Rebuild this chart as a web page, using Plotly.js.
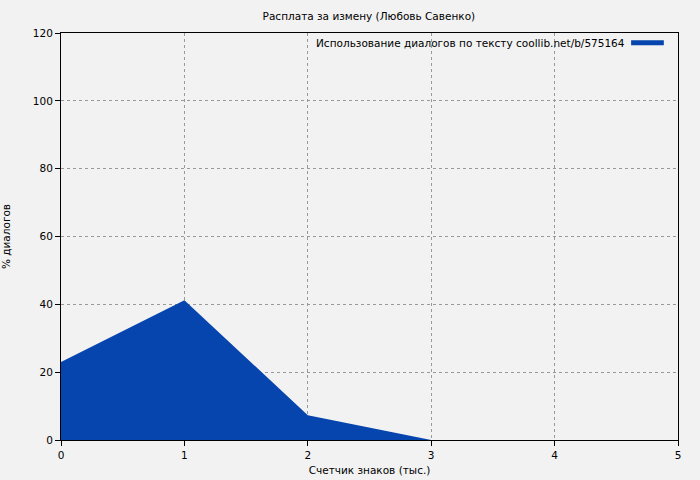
<!DOCTYPE html>
<html><head><meta charset="utf-8">
<script src="https://cdn.plot.ly/plotly-3.0.1.min.js"></script>
<style>html,body{margin:0;padding:0;background:#f2f2f2}</style>
</head><body><div id="chart" style="width:700px;height:480px"></div>
<script>
const xThousands = [0, 1, 2, 3, 4, 5];
const pctDialogs = [23, 41.2, 7.3, 0, 0, 0];
const seriesName = "Использование диалогов по тексту coollib.net/b/575164";
const chartTitle = "Расплата за измену (Любовь Савенко)";
const xTitle = "Счетчик знаков (тыс.)";
const yTitle = "% диалогов";

const fontFam = "DejaVu Sans, sans-serif";
const fs = 10.5;
const trace = {
  x: xThousands, y: pctDialogs, type: "scatter", mode: "lines",
  fill: "tozeroy", fillcolor: "#0645ad", line: {color: "#0645ad", width: 0},
  name: seriesName, showlegend: false, hoverinfo: "skip"
};
const axisCommon = {
  showline: true, linecolor: "#000", linewidth: 1, mirror: true,
  ticks: "outside", ticklen: 5, tickcolor: "#000",
  showgrid: true, gridcolor: "#999", griddash: "dot", gridwidth: 1,
  zeroline: false, tickfont: {family: fontFam, size: fs, color: "#000"}
};
const layout = {
  width: 700, height: 480,
  paper_bgcolor: "#f2f2f2", plot_bgcolor: "#f2f2f2",
  margin: {l: 61, r: 22, t: 33, b: 40},
  font: {family: fontFam, size: fs, color: "#000"},
  title: {text: chartTitle, font: {family: fontFam, size: fs, color: "#000"}, x: 0.527, xanchor: "center", y: 0.967, yanchor: "middle"},
  xaxis: Object.assign({}, axisCommon, {range: [0, 5], dtick: 1,
    title: {text: xTitle, font: {family: fontFam, size: fs}, standoff: 7}}),
  yaxis: Object.assign({}, axisCommon, {range: [0, 120], dtick: 20,
    title: {text: yTitle, font: {family: fontFam, size: fs}, standoff: 20}}),
  showlegend: false,
  annotations: [{
    xref: "paper", yref: "paper", x: 0.917, y: 0.976, xanchor: "right", yanchor: "middle",
    text: seriesName, showarrow: false, font: {family: fontFam, size: fs, color: "#000"}
  }],
  shapes: [{
    type: "line", xref: "paper", yref: "paper", x0: 0.924, x1: 0.977, y0: 0.976, y1: 0.976,
    line: {color: "#0645ad", width: 5}
  }]
};
Plotly.newPlot("chart", [trace], layout, {displayModeBar: false, staticPlot: true});
</script></body></html>
